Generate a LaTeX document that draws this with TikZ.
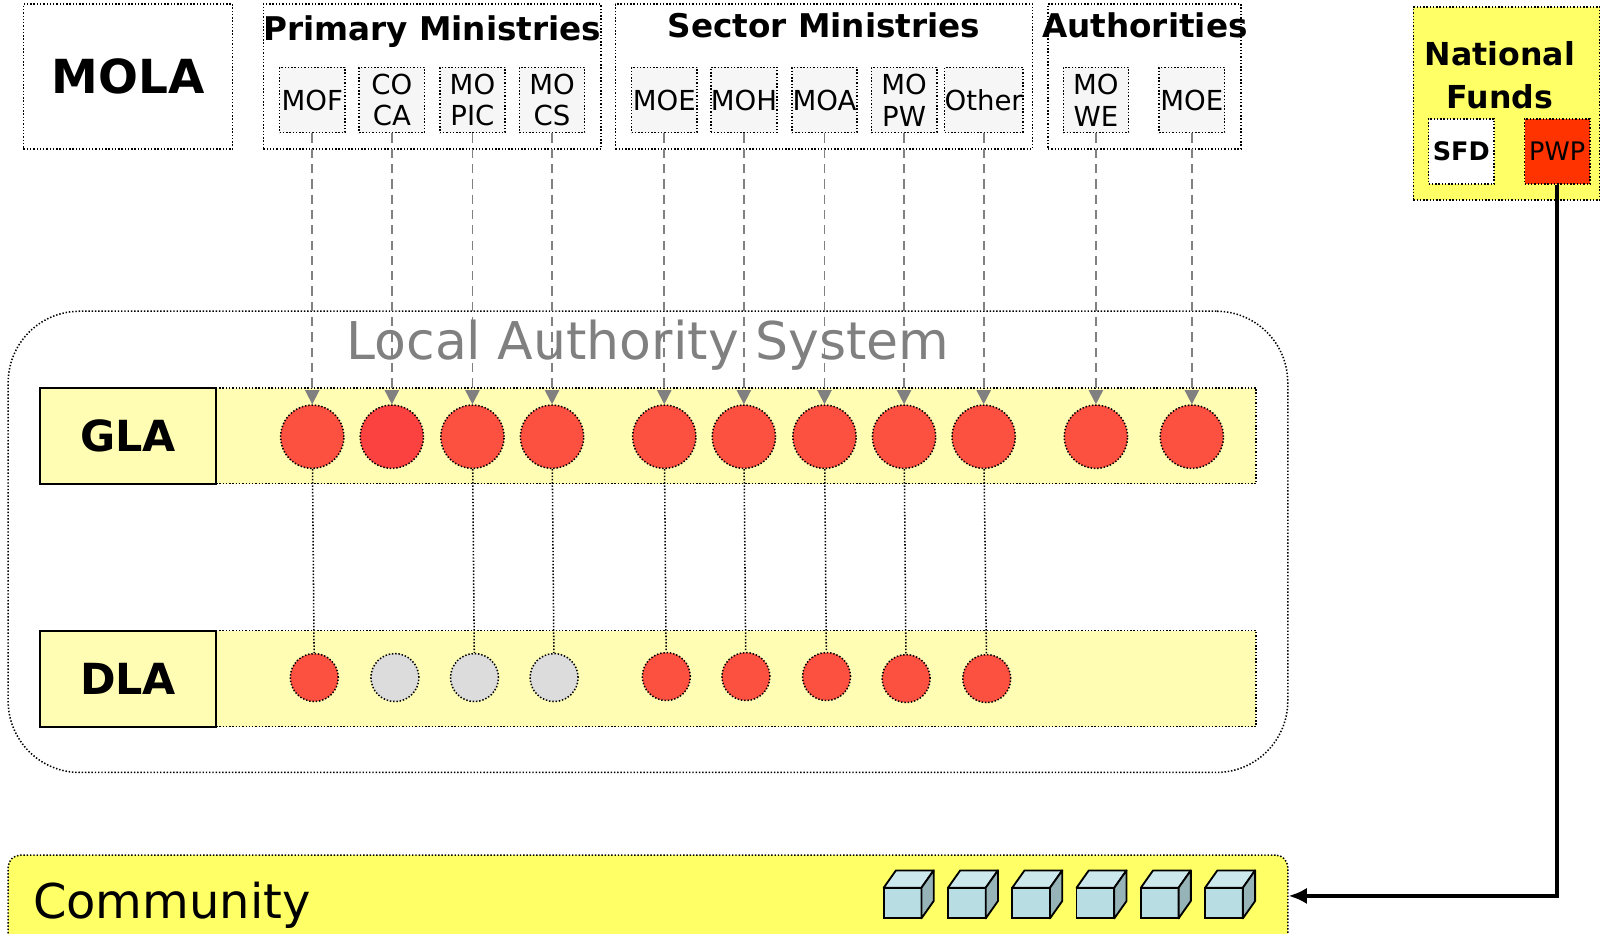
\documentclass[tikz,border=0pt]{standalone}
\usepackage{fontspec}
\setmainfont{DejaVu Sans}
\usetikzlibrary{arrows.meta}
\definecolor{fundyellow}{HTML}{FFFF66}
\definecolor{bandyellow}{HTML}{FFFDB3}
\definecolor{ministrygray}{HTML}{F6F6F6}
\definecolor{lared}{HTML}{FC5040}
\definecolor{lared2}{HTML}{FC4240}
\definecolor{lagray}{HTML}{DCDCDC}
\definecolor{pwpred}{HTML}{FF3300}
\definecolor{cubefront}{HTML}{B8DDE2}
\definecolor{cubetop}{HTML}{CCE8EC}
\definecolor{cubeside}{HTML}{96B4B7}
\tikzset{
  dots/.style={dash pattern=on 0.7pt off 0.9pt, line width=0.75pt},
  groupbox/.style={draw, dots, inner sep=0pt, minimum height=71pt},
  ministry/.style={draw, dots, fill=ministrygray, minimum width=32pt, minimum height=32pt, inner sep=0pt, align=center, font=\fontsize{13.5}{15.5}\selectfont},
  grouptitle/.style={anchor=base, font=\bfseries\fontsize{16}{18}\selectfont},
  band/.style={draw, dots, fill=bandyellow, minimum width=596pt, minimum height=47pt, inner sep=0pt},
  layer/.style={draw, line width=1pt, fill=bandyellow, minimum width=86.5pt, minimum height=47pt, inner sep=0pt, font=\bfseries\fontsize{21}{24}\selectfont},
  glacirc/.style={circle, draw, dots, fill=lared, minimum size=31pt, inner sep=0pt},
  dlacirc/.style={circle, draw, dots, fill=lared, minimum size=23.5pt, inner sep=0pt},
  dlaoff/.style={dlacirc, fill=lagray},
  feed/.style={draw=gray, dash pattern=on 4.5pt off 3pt, line width=0.8pt, -{Triangle[width=7pt,length=7pt]}},
  link/.style={dots},
  fund/.style={line width=2pt, -{Latex[width=8pt,length=9pt]}}
}
\def\cubeat(#1,#2){
  \draw[line width=0.9pt, fill=cubefront] (#1,#2) rectangle ++(37,30);
  \draw[line width=0.9pt, fill=cubetop, line join=round] (#1,#2) -- ++(12,-17) -- ++(37,0) -- ++(-12,17) -- cycle;
  \draw[line width=0.9pt, fill=cubeside, line join=round] (#1+37,#2) -- ++(12,-17) -- ++(0,30) -- ++(-12,17) -- cycle;
}

\begin{document}
\begin{tikzpicture}[x=0.5pt, y=-0.5pt]
  %%%%% START %%%%%
  \useasboundingbox (0,0) rectangle (1568,915.3);

  % top row
  \node[groupbox, minimum width=102.5pt, font=\bfseries\fontsize{23}{26}\selectfont] (mola) at (125.5,75) {MOLA};
  \node[groupbox, minimum width=165.5pt] (primary) at (423.5,75) {};
  \node[groupbox, minimum width=204.5pt] (sector) at (807.5,75) {};
  \node[groupbox, minimum width=94.5pt] (auth) at (1121.5,75) {};
  \node[grouptitle] at (423.5,40) {Primary Ministries};
  \node[grouptitle] at (807.5,37) {Sector Ministries};
  \node[grouptitle] at (1122,37) {Authorities};

  \node[ministry] (mof) at (306,98) {MOF};
  \node[ministry] (coca) at (384,98) {CO\\CA};
  \node[ministry] (mopic) at (463,98) {MO\\PIC};
  \node[ministry] (mocs) at (541,98) {MO\\CS};
  \node[ministry] (moe) at (651,98) {MOE};
  \node[ministry] (moh) at (729,98) {MOH};
  \node[ministry] (moa) at (808,98) {MOA};
  \node[ministry] (mopw) at (886,98) {MO\\PW};
  \node[ministry] (other) at (964,98) {Other};
  \node[ministry] (mowe) at (1074,98) {MO\\WE};
  \node[ministry] (moe2) at (1168,98) {MOE};

  % national funds
  \node[draw, dots, fill=fundyellow, minimum width=91.5pt, minimum height=94.5pt] (funds) at (1476.5,101.5) {};
  \node[align=center, font=\bfseries\fontsize{15.5}{21}\selectfont] at (1470,74) {National\\Funds};
  \node[ministry, fill=white, font=\bfseries\fontsize{12.5}{15}\selectfont] (sfd) at (1432,148.5) {SFD};
  \node[ministry, fill=pwpred, font=\fontsize{12.5}{15}\selectfont] (pwp) at (1526,148.5) {PWP};

  % local authority system
  \node[draw, dots, rounded corners=35pt, minimum width=627pt, minimum height=226pt] (las) at (635,531) {};
  \node[text=gray, font=\fontsize{25.5}{28}\selectfont] at (635,338) {Local Authority System};

  \node[band] (glaband) at (635,427) {};
  \node[layer] (gla) at (125.5,427) {GLA};
  \node[band] (dlaband) at (635,665) {};
  \node[layer] (dla) at (125.5,665) {DLA};

  \node[glacirc] (g1) at (306,428) {};
  \node[glacirc, fill=lared2] (g2) at (384,428) {};
  \node[glacirc] (g3) at (463,428) {};
  \node[glacirc] (g4) at (541,428) {};
  \node[glacirc] (g5) at (651,428) {};
  \node[glacirc] (g6) at (729,428) {};
  \node[glacirc] (g7) at (808,428) {};
  \node[glacirc] (g8) at (886,428) {};
  \node[glacirc] (g9) at (964,428) {};
  \node[glacirc] (g10) at (1074,428) {};
  \node[glacirc] (g11) at (1168,428) {};

  \node[dlacirc] (d1) at (308,664) {};
  \node[dlaoff] (d2) at (387,664) {};
  \node[dlaoff] (d3) at (465,664) {};
  \node[dlaoff] (d4) at (543,664) {};
  \node[dlacirc] (d5) at (653,663) {};
  \node[dlacirc] (d6) at (731,663) {};
  \node[dlacirc] (d7) at (810,663) {};
  \node[dlacirc] (d8) at (888,665) {};
  \node[dlacirc] (d9) at (967,665) {};

  % ministries to GLA
  \draw[feed] (mof) -- (g1);
  \draw[feed] (coca) -- (g2);
  \draw[feed] (mopic) -- (g3);
  \draw[feed] (mocs) -- (g4);
  \draw[feed] (moe) -- (g5);
  \draw[feed] (moh) -- (g6);
  \draw[feed] (moa) -- (g7);
  \draw[feed] (mopw) -- (g8);
  \draw[feed] (other) -- (g9);
  \draw[feed] (mowe) -- (g10);
  \draw[feed] (moe2) -- (g11);

  % GLA to DLA
  \draw[link] (g1) -- (d1);
  \draw[link] (g3) -- (d3);
  \draw[link] (g4) -- (d4);
  \draw[link] (g5) -- (d5);
  \draw[link] (g6) -- (d6);
  \draw[link] (g7) -- (d7);
  \draw[link] (g8) -- (d8);
  \draw[link] (g9) -- (d9);

  % community
  \node[draw, dots, fill=fundyellow, rounded corners=6pt, minimum width=627pt, minimum height=47pt] (comm) at (635,885) {};
  \node[anchor=base west, inner sep=0pt, font=\fontsize{23.5}{26}\selectfont] at (32,900) {Community};
  \cubeat(866,870)
  \cubeat(929,870)
  \cubeat(992,870)
  \cubeat(1055,870)
  \cubeat(1118,870)
  \cubeat(1181,870)

  \draw[fund] (pwp.south) |- ([yshift=3.5pt]comm.east);
  %%%%% END %%%%%
\end{tikzpicture}
\end{document}
